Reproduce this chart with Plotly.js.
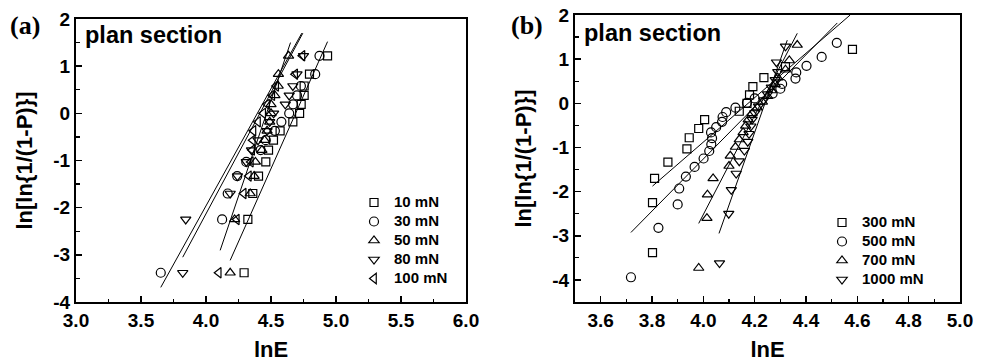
<!DOCTYPE html>
<html>
<head>
<meta charset="utf-8">
<script src="https://cdn.plot.ly/plotly-3.0.1.min.js"></script>
<style>html,body{margin:0;padding:0;background:#fff;}#chart{width:982px;height:364px;}</style>
</head>
<body>
<div id="chart"></div>
<script>
// ---------- Panel (a) data ----------
const yA = [-3.38, -2.25, -1.70, -1.33, -1.03, -0.78, -0.57, -0.37, -0.18, 0.00, 0.19, 0.38, 0.58, 0.83, 1.22];
const x10mN  = [4.293, 4.322, 4.36, 4.404, 4.46, 4.481, 4.519, 4.57, 4.668, 4.72, 4.732, 4.755, 4.755, 4.796, 4.935];
const x30mN  = [3.652, 4.124, 4.167, 4.24, 4.31, 4.42, 4.46, 4.53, 4.58, 4.64, 4.67, 4.70, 4.73, 4.84, 4.873];
const x50mN  = [4.186, 4.22, 4.34, 4.37, 4.38, 4.43, 4.45, 4.47, 4.49, 4.50, 4.50, 4.53, 4.555, 4.557, 4.635];
const x80mN  = [3.821, 3.844, 4.186, 4.242, 4.31, 4.35, 4.40, 4.47, 4.49, 4.52, 4.61, 4.64, 4.668, 4.70, 4.75];
const x100mN = [4.098, 4.237, 4.29, 4.33, 4.345, 4.355, 4.36, 4.365, 4.40, 4.44, 4.47, 4.51, 4.54, 4.686, 4.742];
// fitted lines of panel (a): end points
const fitAx = [[3.652, 4.737], [3.821, 4.745], [4.109, 4.65], [4.186, 4.935]];
const fitAy = [[-3.69, 1.70], [-3.05, 1.70], [-2.905, 1.50], [-3.117, 1.52]];
const namesA = ['10 mN', '30 mN', '50 mN', '80 mN', '100 mN'];

// ---------- Panel (b) data ----------
const y300mN = [-3.38, -2.25, -1.70, -1.33, -1.03, -0.78, -0.57, -0.37, -0.18, 0.00, 0.19, 0.38, 0.58, 0.83, 1.22];
const x300mN = [3.802, 3.802, 3.810, 3.862, 3.936, 3.945, 3.982, 4.005, 4.14, 4.17, 4.18, 4.193, 4.236, 4.32, 4.581];
const y500mN = [-3.94, -2.82, -2.29, -1.93, -1.66, -1.44, -1.25, -1.08, -0.93, -0.79, -0.66, -0.54, -0.42, -0.31, -0.20, -0.10, 0.01, 0.11, 0.22, 0.33, 0.44, 0.56, 0.70, 0.85, 1.05, 1.37];
const x500mN = [3.718, 3.825, 3.90, 3.906, 3.932, 3.966, 4.001, 4.023, 4.031, 4.034, 4.03, 4.05, 4.073, 4.075, 4.089, 4.125, 4.17, 4.20, 4.27, 4.30, 4.307, 4.359, 4.362, 4.402, 4.461, 4.52];
const y700mN = [-3.73, -2.60, -2.07, -1.70, -1.42, -1.19, -0.99, -0.82, -0.66, -0.51, -0.37, -0.23, -0.10, 0.03, 0.16, 0.29, 0.43, 0.58, 0.76, 0.97, 1.32];
const x700mN = [3.982, 4.014, 4.016, 4.038, 4.10, 4.105, 4.125, 4.14, 4.155, 4.165, 4.175, 4.19, 4.21, 4.23, 4.25, 4.265, 4.28, 4.29, 4.32, 4.335, 4.366];
const y1000mN = [-3.62, -2.50, -1.96, -1.59, -1.31, -1.07, -0.87, -0.69, -0.52, -0.37, -0.22, -0.07, 0.07, 0.21, 0.36, 0.53, 0.71, 0.93, 1.29];
const x1000mN = [4.063, 4.099, 4.109, 4.128, 4.14, 4.16, 4.173, 4.178, 4.185, 4.19, 4.20, 4.215, 4.235, 4.25, 4.265, 4.28, 4.29, 4.285, 4.32];
const fitBx = [[3.802, 4.572], [3.718, 4.522], [3.982, 4.366], [4.061, 4.327]];
const fitBy = [[-1.875, 2.00], [-2.925, 1.82], [-2.72, 1.585], [-2.947, 1.43]];
const namesB = ['300 mN', '500 mN', '700 mN', '1000 mN'];

// tick labels
const xTickA = [3.0, 3.5, 4.0, 4.5, 5.0, 5.5, 6.0];
const xTickAText = ['3.0', '3.5', '4.0', '4.5', '5.0', '5.5', '6.0'];
const xTickB = [3.6, 3.8, 4.0, 4.2, 4.4, 4.6, 4.8, 5.0];
const xTickBText = ['3.6', '3.8', '4.0', '4.2', '4.4', '4.6', '4.8', '5.0'];
const yTick = [-4, -3, -2, -1, 0, 1, 2];
const yTickText = ['-4', '-3', '-2', '-1', '0', '1', '2'];

const FONT = 'Liberation Sans, Arial, Helvetica, sans-serif';
const symA = ['square-open', 'circle-open', 'triangle-up-open', 'triangle-down-open', 'triangle-left-open'];
const symB = ['square-open', 'circle-open', 'triangle-up-open', 'triangle-down-open'];
const sizeOf = s => s.startsWith('square') ? 8 : 9;
const legendLabel = t => '<span style="font-size:15px">' + t + '</span>';

const traces = [];
[x10mN, x30mN, x50mN, x80mN, x100mN].forEach((xs, i) => {
  traces.push({
    x: xs, y: yA, type: 'scatter', mode: 'markers', name: legendLabel(namesA[i]),
    xaxis: 'x', yaxis: 'y', legend: 'legend',
    marker: {symbol: symA[i], size: sizeOf(symA[i]), color: '#000', line: {color: '#000', width: 1.2}}
  });
});
fitAx.forEach((xs, i) => {
  traces.push({x: xs, y: fitAy[i], type: 'scatter', mode: 'lines', showlegend: false,
    xaxis: 'x', yaxis: 'y', line: {color: '#000', width: 1}, hoverinfo: 'skip'});
});
[[x300mN, y300mN], [x500mN, y500mN], [x700mN, y700mN], [x1000mN, y1000mN]].forEach((d, i) => {
  traces.push({
    x: d[0], y: d[1], type: 'scatter', mode: 'markers', name: legendLabel(namesB[i]),
    xaxis: 'x2', yaxis: 'y2', legend: 'legend2',
    marker: {symbol: symB[i], size: sizeOf(symB[i]), color: '#000', line: {color: '#000', width: 1.2}}
  });
});
fitBx.forEach((xs, i) => {
  traces.push({x: xs, y: fitBy[i], type: 'scatter', mode: 'lines', showlegend: false,
    xaxis: 'x2', yaxis: 'y2', line: {color: '#000', width: 1}, hoverinfo: 'skip'});
});

const axisCommon = {
  showline: true, linecolor: '#000', linewidth: 2, mirror: true,
  ticks: 'inside', ticklen: 6, tickwidth: 1.5, tickcolor: '#000',
  showgrid: false, zeroline: false, tickmode: 'array',
  tickfont: {family: FONT, size: 19, color: '#000', weight: 'bold'}
};
const xTitle = {text: 'lnE', font: {family: FONT, size: 22, color: '#000', weight: 'bold'}, standoff: 12};
const yTitle = {text: 'ln[ln{1/(1-P)}]', font: {family: FONT, size: 22, color: '#000', weight: 'bold'}, standoff: 15};
const legendCommon = {xanchor: 'left', yanchor: 'top', bgcolor: 'rgba(0,0,0,0)', borderwidth: 0,
  font: {family: FONT, size: 11.8, color: '#000', weight: 'bold'}, tracegroupgap: 0, itemwidth: 30};

const layout = {
  width: 982, height: 364,
  margin: {l: 0, r: 0, t: 0, b: 0},
  paper_bgcolor: '#fff', plot_bgcolor: '#fff',
  showlegend: true,
  xaxis: Object.assign({}, axisCommon, {domain: [76/982, 466/982], range: [3.0, 6.0], anchor: 'y',
    tickvals: xTickA, ticktext: xTickAText, title: xTitle,
    minor: {ticks: 'inside', ticklen: 3.5, tickwidth: 1.2, tickcolor: '#000', dtick: 0.25, tick0: 3, showgrid: false}}),
  yaxis: Object.assign({}, axisCommon, {domain: [1 - 302/364, 1 - 19/364], range: [-4, 2], anchor: 'x',
    tickvals: yTick, ticktext: yTickText, title: yTitle,
    minor: {ticks: 'inside', ticklen: 3.5, tickwidth: 1.2, tickcolor: '#000', dtick: 0.5, tick0: 0, showgrid: false}}),
  xaxis2: Object.assign({}, axisCommon, {domain: [575/982, 960/982], range: [3.5, 5.0], anchor: 'y2',
    tickvals: xTickB, ticktext: xTickBText, title: xTitle,
    minor: {ticks: 'inside', ticklen: 3.5, tickwidth: 1.2, tickcolor: '#000', dtick: 0.1, tick0: 3.5, showgrid: false}}),
  yaxis2: Object.assign({}, axisCommon, {domain: [1 - 302/364, 1 - 15/364], range: [-4.5, 2], anchor: 'x2',
    tickvals: yTick, ticktext: yTickText, title: yTitle,
    minor: {ticks: 'inside', ticklen: 3.5, tickwidth: 1.2, tickcolor: '#000', dtick: 0.5, tick0: 0, showgrid: false}}),
  legend: Object.assign({}, legendCommon, {x: 354/982, y: 1 - 188/364}),
  legend2: Object.assign({}, legendCommon, {x: 822/982, y: 1 - 208/364}),
  annotations: [
    {text: '(a)', xref: 'paper', yref: 'paper', x: 25/982, y: 1 - 26/364, xanchor: 'center', yanchor: 'middle', showarrow: false,
      font: {family: 'Liberation Serif, Times New Roman, serif', size: 26, color: '#000', weight: 'bold'}},
    {text: '(b)', xref: 'paper', yref: 'paper', x: 527/982, y: 1 - 26/364, xanchor: 'center', yanchor: 'middle', showarrow: false,
      font: {family: 'Liberation Serif, Times New Roman, serif', size: 26, color: '#000', weight: 'bold'}},
    {text: 'plan section', xref: 'paper', yref: 'paper', x: 83/982, y: 1 - 35/364, xanchor: 'left', yanchor: 'middle', showarrow: false,
      font: {family: FONT, size: 23.5, color: '#000', weight: 'bold'}},
    {text: 'plan section', xref: 'paper', yref: 'paper', x: 582/982, y: 1 - 33/364, xanchor: 'left', yanchor: 'middle', showarrow: false,
      font: {family: FONT, size: 23.5, color: '#000', weight: 'bold'}}
  ]
};

Plotly.newPlot('chart', traces, layout, {staticPlot: true, displayModeBar: false});
</script>
</body>
</html>
